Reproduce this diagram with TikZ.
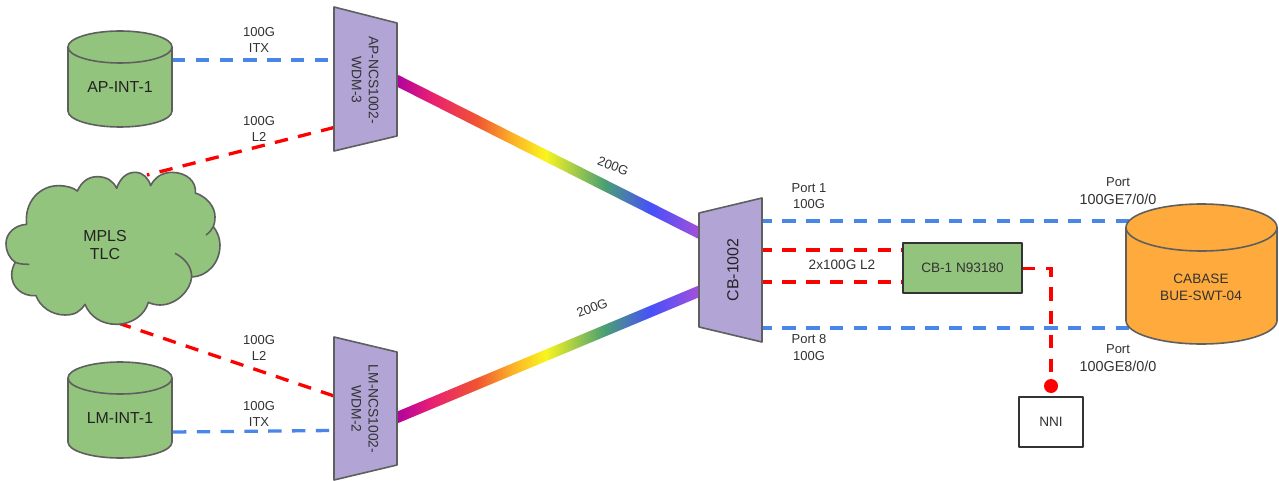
\documentclass[tikz,border=0pt]{standalone}
\usepackage{fontspec}
\setmainfont{Liberation Sans}
\usetikzlibrary{calc}
\definecolor{shapegreen}{RGB}{147,196,125}
\definecolor{shapepurple}{RGB}{178,165,213}
\definecolor{shapeorange}{RGB}{255,170,60}
\definecolor{edgegrey}{RGB}{95,95,95}
\definecolor{linkblue}{RGB}{74,134,232}
\definecolor{labelgrey}{RGB}{50,50,50}
\definecolor{rbA}{RGB}{170,0,165}
\definecolor{rbB}{RGB}{232,30,115}
\definecolor{rbC}{RGB}{240,85,50}
\definecolor{rbD}{RGB}{252,175,40}
\definecolor{rbE}{RGB}{250,245,30}
\definecolor{rbF}{RGB}{75,160,115}
\definecolor{rbG}{RGB}{70,80,250}
\definecolor{rbH}{RGB}{172,80,215}
\pgfdeclarehorizontalshading{rainbowfibre}{100bp}{
  color(0bp)=(rbA); color(25bp)=(rbA); color(31bp)=(rbB); color(38.5bp)=(rbC); color(44bp)=(rbD);
  color(49.5bp)=(rbE); color(59bp)=(rbF); color(66.5bp)=(rbG); color(75bp)=(rbH); color(100bp)=(rbH)}
\tikzset{
  x=1pt,y=-1pt,
  shapeline/.style={draw=edgegrey,line width=1.6pt,line join=round},
  bluelink/.style={draw=linkblue,line width=3.3pt,dash pattern=on 13.4pt off 10.4pt},
  redlink/.style={draw=red,line width=3.3pt,dash pattern=on 13.4pt off 10.4pt},
  lbl/.style={font=\fontsize{13}{16.5}\selectfont,text=labelgrey,align=center,inner sep=0pt},
  widelbl/.style={lbl,font=\fontsize{14.4}{18}\selectfont},
  midlbl/.style={lbl,font=\fontsize{13.6}{17}\selectfont},
  biglbl/.style={font=\fontsize{15.9}{18}\selectfont,text=labelgrey!70!black,align=center,inner sep=0pt},
  fibre/.style={shading=rainbowfibre,inner sep=0pt,minimum height=11pt,outer sep=0pt},
  boxline/.style={draw=black!80,line width=1.6pt,line join=round},
}
\newcommand{\cylshape}[6]{%
  \path[shapeline,fill=#6] (#1,#3+#5) -- (#1,#4-#5)
    .. controls (#1,#4-#5+.5523*#5) and ({(#1+#2)/2-.5523*(#2-#1)/2},#4) .. ({(#1+#2)/2},#4)
    .. controls ({(#1+#2)/2+.5523*(#2-#1)/2},#4) and (#2,#4-#5+.5523*#5) .. (#2,#4-#5)
    -- (#2,#3+#5)
    .. controls (#2,#3+#5-.5523*#5) and ({(#1+#2)/2+.5523*(#2-#1)/2},#3) .. ({(#1+#2)/2},#3)
    .. controls ({(#1+#2)/2-.5523*(#2-#1)/2},#3) and (#1,#3+#5-.5523*#5) .. (#1,#3+#5) -- cycle;
  \path[shapeline] (#1,#3+#5)
    .. controls (#1,#3+#5+.5523*#5) and ({(#1+#2)/2-.5523*(#2-#1)/2},#3+2*#5) .. ({(#1+#2)/2},#3+2*#5)
    .. controls ({(#1+#2)/2+.5523*(#2-#1)/2},#3+2*#5) and (#2,#3+#5+.5523*#5) .. (#2,#3+#5);
}
\begin{document}
\begin{tikzpicture}
\useasboundingbox[fill=white] (0,0) rectangle (1279,481);

% connector end points
\coordinate (apcylE) at (172,60);
\coordinate (apmuxB) at (332,60);
\coordinate (cloudT) at (147,175);
\coordinate (apmuxR) at (334,127.5);
\coordinate (cloudB) at (118,323);
\coordinate (lmmuxR) at (334,396);
\coordinate (lmcylE) at (173,432);
\coordinate (lmmuxB) at (332,430.5);
\coordinate (apF) at (396,80);
\coordinate (cbFa) at (701,234);
\coordinate (lmF) at (396,418);
\coordinate (cbFb) at (701,290.5);
\coordinate (cbBa) at (762,221);
\coordinate (swBa) at (1130,221);
\coordinate (cbBb) at (762,328);
\coordinate (swBb) at (1130,328);
\coordinate (cbRa) at (762,250);
\coordinate (cbRb) at (762,282);
\coordinate (torRa) at (903,250);
\coordinate (torRb) at (903,282);
\coordinate (torE) at (1022,268.5);
\coordinate (turn) at (1051,268.5);
\coordinate (dotC) at (1051,386);

% fibres
\path let \p1=($(cbFa)-(apF)$), \n1={atan2(\y1,\x1)}, \n2={veclen(\x1,\y1)} in
  node[fibre,rotate=\n1,minimum width=\n2] (fibreTop) at ($(apF)!.5!(cbFa)$) {};
\path let \p1=($(cbFb)-(lmF)$), \n1={atan2(\y1,\x1)}, \n2={veclen(\x1,\y1)} in
  node[fibre,rotate=\n1,minimum width=\n2] (fibreBot) at ($(lmF)!.5!(cbFb)$) {};

% dashed links
\draw[bluelink] (apcylE) -- (apmuxB);
\draw[redlink] (apmuxR) -- (cloudT);
\draw[redlink] (cloudB) -- (lmmuxR);
\draw[bluelink] (lmcylE) -- (lmmuxB);
\draw[bluelink,dash phase=3.4pt] (cbBa) -- (swBa);
\draw[bluelink,dash phase=3.4pt] (cbBb) -- (swBb);
\draw[redlink,dash phase=3.4pt] (cbRa) -- (torRa);
\draw[redlink,dash phase=3.4pt] (cbRb) -- (torRb);

% cylinders
\cylshape{68}{172}{31}{127}{16}{shapegreen}
\cylshape{68}{172}{362}{458}{16}{shapegreen}
\cylshape{1126}{1277}{204}{344}{23.5}{shapeorange}

% muxes
\path[shapeline,fill=shapepurple] (334,7) -- (397,23) -- (397,136) -- (334,151) -- cycle;
\path[shapeline,fill=shapepurple] (334,337) -- (397,352) -- (397,465) -- (334,480) -- cycle;
\path[shapeline,fill=shapepurple] (699,213) -- (762,198) -- (762,342) -- (699,327) -- cycle;

% cloud
\begin{scope}[shift={(0,165)},x=1pt/3,y=-1pt/3]
\path[shapeline,fill=shapegreen]
  (80,178) .. controls (72,110) and (120,62) .. (175,62)
  .. controls (200,62) and (220,68) .. (232,78)
  .. controls (245,50) and (265,35) .. (292,35)
  .. controls (320,35) and (340,48) .. (350,70)
  .. controls (360,40) and (380,22) .. (405,22)
  .. controls (430,22) and (445,40) .. (452,62)
  .. controls (465,35) and (490,22) .. (515,22)
  .. controls (560,22) and (590,50) .. (586,84)
  .. controls (620,95) and (645,125) .. (645,155)
  .. controls (645,168) and (643,178) .. (640,185)
  .. controls (652,200) and (660,220) .. (660,240)
  .. controls (660,295) and (620,335) .. (575,336)
  .. controls (572,375) and (530,420) .. (480,420)
  .. controls (468,420) and (455,417) .. (445,412)
  .. controls (435,450) and (395,478) .. (350,478)
  .. controls (305,478) and (270,455) .. (255,418)
  .. controls (240,440) and (225,450) .. (195,450)
  .. controls (155,450) and (120,425) .. (108,392)
  .. controls (65,395) and (35,365) .. (35,330)
  .. controls (35,315) and (40,302) .. (46,292)
  .. controls (30,282) and (18,260) .. (18,235)
  .. controls (18,205) and (45,180) .. (80,178) -- cycle;
\path[shapeline] (46,292) .. controls (58,297) and (72,298) .. (88,298);
\path[shapeline] (640,185) .. controls (635,195) and (628,203) .. (618,210);
\path[shapeline] (575,336) .. controls (575,305) and (555,280) .. (525,265);
\end{scope}

% switch box, NNI
\draw[redlink] (torE) -- (turn) -- (dotC);
\node[boxline,fill=shapegreen,minimum width=119pt,minimum height=50pt,inner sep=0pt,midlbl] (tor) at (962.5,268) {CB-1 N93180};
\node[boxline,fill=white,minimum width=64pt,minimum height=50pt,inner sep=0pt,midlbl] (nni) at (1051,422) {NNI};
\node[circle,fill=red,minimum size=14pt,inner sep=0pt] (dot) at (dotC) {};

% labels
\node[biglbl] (apint) at (120,87) {AP-INT-1};
\node[biglbl] (lmint) at (120,418) {LM-INT-1};
\node[biglbl] (mpls) at (105,245) {MPLS\\TLC};
\node[lbl,rotate=-90,font=\fontsize{13.8}{17}\selectfont] (apname) at (365,80) {AP-NCS1002-\\WDM-3};
\node[lbl,rotate=-90,font=\fontsize{13.8}{17}\selectfont] (lmname) at (365,409) {LM-NCS1002-\\WDM-2};
\node[biglbl,rotate=90] (cbname) at (733,270) {CB-1002};
\node[lbl] (l1) at (259,40) {100G\\ITX};
\node[lbl] (l2) at (259,129) {100G\\L2};
\node[lbl] (l3) at (259,348) {100G\\L2};
\node[lbl] (l4) at (259,414) {100G\\ITX};
\node[lbl,rotate=-21] (l5) at (613,166) {200G};
\node[lbl,rotate=21] (l6) at (592,308) {200G};
\node[lbl] (l7) at (809,196) {Port 1\\100G};
\node[lbl] (l8) at (809,347.5) {Port 8\\100G};
\node[midlbl] (l9) at (842,265) {2x100G L2};
\node[widelbl] (l10) at (1118,191) {{\fontsize{13}{18}\selectfont Port}\\100GE7/0/0};
\node[widelbl] (l11) at (1118,358) {{\fontsize{13}{18}\selectfont Port}\\100GE8/0/0};
\node[midlbl] (swname) at (1201,287) {CABASE\\BUE-SWT-04};
\end{tikzpicture}
\end{document}
